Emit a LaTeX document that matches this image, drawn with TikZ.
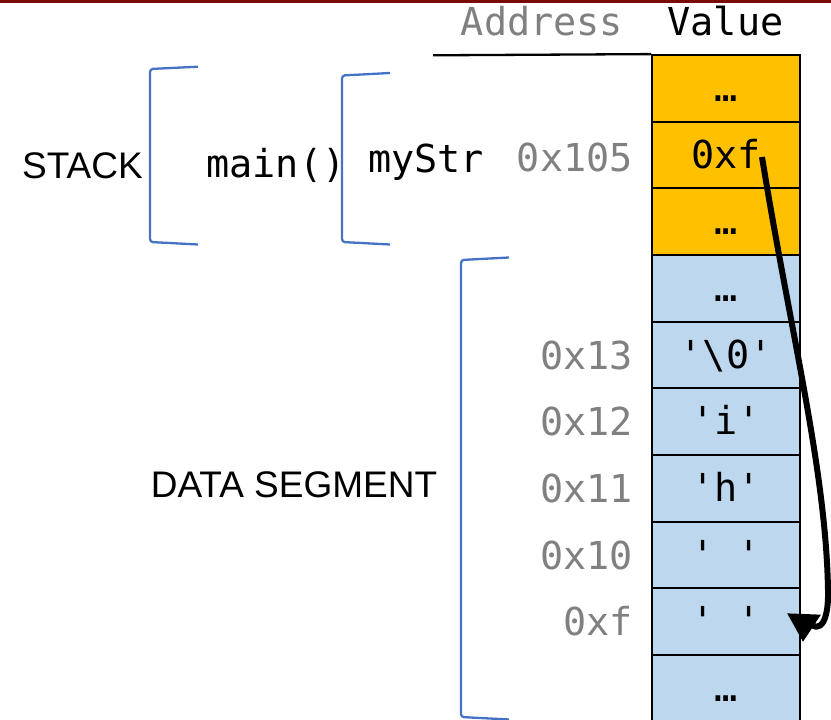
\documentclass[tikz,border=0pt]{standalone}
\usepackage{fontspec}
\setmainfont{Liberation Sans}
\setmonofont{DejaVu Sans Mono}
\usetikzlibrary{arrows.meta,calc}
\definecolor{cellorange}{HTML}{FFC000}
\definecolor{cellblue}{HTML}{BDD7EE}
\definecolor{brk}{HTML}{4472C4}
\definecolor{addrgray}{HTML}{808080}
\definecolor{topred}{HTML}{7B0A0A}
\newcommand\monof{\ttfamily\fontsize{38.5}{46}\selectfont}
\newcommand\sansf{\fontsize{37}{44}\selectfont}
\newcommand\q{\textquotesingle}
\tikzset{
  cell/.style={draw=black, line width=1.8pt, minimum width=148pt, minimum height=66.67pt,
    inner sep=0pt, text height=30pt, text depth=4pt, font=\monof},
  orangecell/.style={cell, fill=cellorange},
  bluecell/.style={cell, fill=cellblue},
  addr/.style={font=\monof, text=addrgray, anchor=base east, inner sep=0pt},
  hdr/.style={font=\monof, anchor=base, inner sep=0pt},
  seglabel/.style={font=\sansf, anchor=base, inner sep=0pt},
  codelabel/.style={font=\monof, anchor=base, inner sep=0pt},
  bracketline/.style={draw=brk, line width=2.3pt, rounded corners=3pt},
  pointer/.style={line width=6pt, line join=round, -{Triangle[length=28pt,width=32pt]}},
}
\begin{document}
\begin{tikzpicture}[x=1pt,y=-1pt]
\useasboundingbox (0,0) rectangle (831,720);
\fill[topred] (0,0) rectangle (831,2.5);

% header
\node[hdr, text=addrgray] (haddr) at (542,35) {Address};
\node[hdr] (hval) at (725.5,35) {Value};

% cells
\node[orangecell] (c1) at (726,88.33) {…};
\node[orangecell] (c2) at (726,155) {0xf};
\node[orangecell] (c3) at (726,221.67) {…};
\node[bluecell] (c4) at (726,288.33) {…};
\node[bluecell] (c5) at (726,355) {\q\textbackslash 0\q};
\node[bluecell] (c6) at (726,421.67) {\q i\q};
\node[bluecell] (c7) at (726,488.33) {\q h\q};
\node[bluecell] (c8) at (726,555) {\q\ \q};
\node[bluecell] (c9) at (726,621.67) {\q\ \q};
\node[bluecell] (c10) at (726,688.33) {…};

\coordinate (hl) at (433,55.3);
\draw[line width=2.3pt] (hl) -- (c1.north west);

% addresses
\node[addr] (a105) at ($(c2.center)+(-93,16)$) {0x105};
\node[addr] (a13) at ($(c5.center)+(-93,14)$) {0x13};
\node[addr] (a12) at ($(c6.center)+(-93,14)$) {0x12};
\node[addr] (a11) at ($(c7.center)+(-93,14)$) {0x11};
\node[addr] (a10) at ($(c8.center)+(-93,14)$) {0x10};
\node[addr] (af) at ($(c9.center)+(-93,14)$) {0xf};

% labels
\node[seglabel] (stack) at (82.5,178) {STACK};
\node[codelabel] (mainf) at (276,177) {main()};
\node[codelabel] (mystr) at (426,172) {myStr};
\node[seglabel] (data) at (294,497) {DATA SEGMENT};

% brackets
\draw[bracketline] (198,66.7) -- (150,69) -- (150,242) -- (198,244.5);
\draw[bracketline] (390,73) -- (342,75.5) -- (342,242) -- (390,244.5);
\draw[bracketline] (509,257.5) -- (461,260) -- (461,717) -- (509,719.5);

% pointer
\coordinate (ptr) at (762,157);
\coordinate (bend) at (828,590);
\coordinate (hook) at (804,616);
\coordinate (tgt) at (803,642);
\draw[pointer] (ptr) .. controls (790,330) and (826,470) .. (bend)
  .. controls (829,632) and (814,634) .. (hook) -- (tgt);
\end{tikzpicture}
\end{document}
